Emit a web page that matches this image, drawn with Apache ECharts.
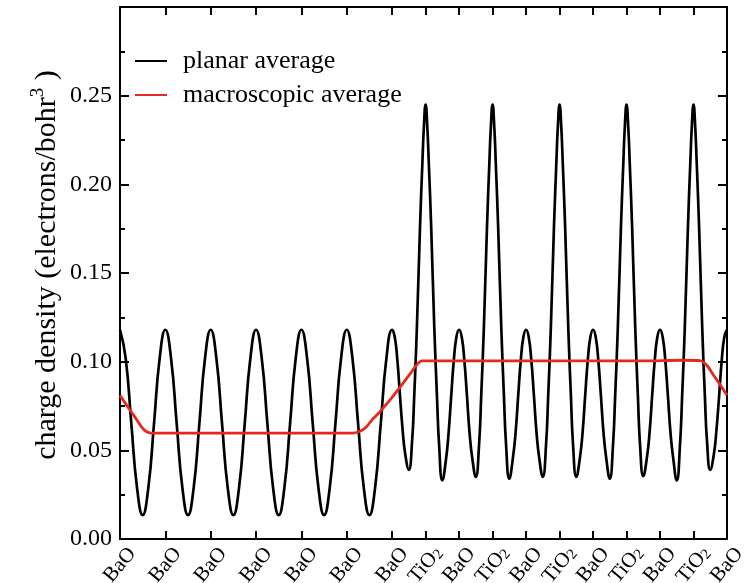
<!DOCTYPE html>
<html><head><meta charset="utf-8">
<script src="https://cdn.jsdelivr.net/npm/echarts@6/dist/echarts.min.js"></script>
<style>html,body{margin:0;padding:0;background:#fff}#c{width:754px;height:583px}</style>
</head><body><div id="c"></div>
<script>
// atomic plane positions (bohr) and their labels
const planePos = [0, 5.2, 10.4, 15.6, 20.8, 26.0, 31.2, 35.04, 38.88, 42.72, 46.56, 50.40, 54.24, 58.08, 61.92, 65.76, 69.6];
const planeLabels = ['BaO','BaO','BaO','BaO','BaO','BaO','BaO','TiO2','BaO','TiO2','BaO','TiO2','BaO','TiO2','BaO','TiO2','BaO'];

// planar average
const planarX = [
 0, 0.65, 1.30, 1.95, 2.60, 3.25, 3.90, 4.55, 5.20, 5.85, 6.50, 7.15, 7.80, 8.45, 9.10, 9.75,
 10.40, 11.05, 11.70, 12.35, 13.00, 13.65, 14.30, 14.95, 15.60, 16.25, 16.90, 17.55, 18.20, 18.85, 19.50, 20.15,
 20.80, 21.45, 22.10, 22.75, 23.40, 24.05, 24.70, 25.35, 26.00, 26.65, 27.30, 27.95, 28.60, 29.25, 29.90, 30.55,
 31.20, 31.50, 31.80, 32.10, 32.40, 32.70, 33.12, 33.49, 33.74, 34.04, 34.40, 34.68, 34.84, 35.04, 35.24, 35.40,
 35.68, 36.04, 36.34, 36.59, 36.96, 37.38, 37.68, 37.98, 38.28, 38.58,
 38.88, 39.18, 39.48, 39.78, 40.08, 40.38, 40.80, 41.17, 41.42, 41.72, 42.08, 42.36, 42.52, 42.72, 42.92, 43.08,
 43.36, 43.72, 44.02, 44.27, 44.64, 45.06, 45.36, 45.66, 45.96, 46.26,
 46.56, 46.86, 47.16, 47.46, 47.76, 48.06, 48.48, 48.85, 49.10, 49.40, 49.76, 50.04, 50.20, 50.40, 50.60, 50.76,
 51.04, 51.40, 51.70, 51.95, 52.32, 52.74, 53.04, 53.34, 53.64, 53.94,
 54.24, 54.54, 54.84, 55.14, 55.44, 55.74, 56.16, 56.53, 56.78, 57.08, 57.44, 57.72, 57.88, 58.08, 58.28, 58.44,
 58.72, 59.08, 59.38, 59.63, 60.00, 60.42, 60.72, 61.02, 61.32, 61.62,
 61.92, 62.22, 62.52, 62.82, 63.12, 63.42, 63.84, 64.21, 64.46, 64.76, 65.12, 65.40, 65.56, 65.76, 65.96, 66.12,
 66.40, 66.76, 67.06, 67.31, 67.68, 68.10, 68.40, 68.70, 69.00, 69.30, 69.60
];
const planarY = [
 0.118, 0.102, 0.065, 0.029, 0.0135, 0.029, 0.065, 0.102, 0.118, 0.102, 0.065, 0.029, 0.0135, 0.029, 0.065, 0.102,
 0.118, 0.102, 0.065, 0.029, 0.0135, 0.029, 0.065, 0.102, 0.118, 0.102, 0.065, 0.029, 0.0135, 0.029, 0.065, 0.102,
 0.118, 0.102, 0.065, 0.029, 0.0135, 0.029, 0.065, 0.102, 0.118, 0.102, 0.065, 0.029, 0.0135, 0.029, 0.065, 0.102,
 0.118, 0.114, 0.101, 0.081, 0.062, 0.048, 0.039, 0.055, 0.081, 0.119, 0.176, 0.213, 0.232, 0.245, 0.232, 0.213,
 0.176, 0.119, 0.081, 0.053, 0.033, 0.045, 0.060, 0.081, 0.101, 0.114,
 0.118, 0.114, 0.101, 0.081, 0.060, 0.046, 0.035, 0.053, 0.081, 0.119, 0.176, 0.213, 0.232, 0.245, 0.232, 0.213,
 0.176, 0.119, 0.081, 0.053, 0.034, 0.046, 0.060, 0.081, 0.101, 0.114,
 0.118, 0.114, 0.101, 0.081, 0.060, 0.046, 0.035, 0.053, 0.081, 0.119, 0.176, 0.213, 0.232, 0.245, 0.232, 0.213,
 0.176, 0.119, 0.081, 0.053, 0.035, 0.046, 0.060, 0.081, 0.101, 0.114,
 0.118, 0.114, 0.101, 0.081, 0.060, 0.046, 0.034, 0.053, 0.081, 0.119, 0.176, 0.213, 0.232, 0.245, 0.232, 0.213,
 0.176, 0.119, 0.081, 0.053, 0.0355, 0.046, 0.060, 0.081, 0.101, 0.114,
 0.118, 0.114, 0.101, 0.081, 0.060, 0.046, 0.033, 0.053, 0.081, 0.119, 0.176, 0.213, 0.232, 0.245, 0.232, 0.213,
 0.176, 0.119, 0.081, 0.055, 0.039, 0.048, 0.062, 0.081, 0.101, 0.114, 0.118
];

// macroscopic average
const macroX = [0, 0.92, 1.68, 2.44, 3.02, 3.59, 10, 20, 26.61, 27.52, 28.21, 28.90, 29.82, 30.96, 32.11, 33.26, 34.02, 34.60, 40, 50, 60, 64.5, 66.51, 67.28, 68.04, 68.81, 69.6];
const macroY = [0.081, 0.0743, 0.069, 0.0634, 0.0606, 0.0597, 0.0597, 0.0597, 0.0597, 0.0608, 0.0630, 0.0672, 0.0718, 0.0784, 0.0856, 0.0931, 0.0982, 0.1005, 0.1004, 0.1004, 0.1004, 0.1008, 0.1006, 0.0980, 0.0925, 0.0870, 0.081];

const serif = 'Liberation Serif';
const chart = echarts.init(document.getElementById('c'), null, {renderer: 'canvas'});

function labelFor(v) {
  let best = 0, bd = Infinity;
  planePos.forEach((p, i) => { const d = Math.abs(p - v); if (d < bd) { bd = d; best = i; } });
  const s = planeLabels[best];
  return s === 'TiO2' ? '{a|TiO}{b|2}' : '{a|' + s + '}';
}

const axisLineStyle = {color: '#000', width: 2};
chart.setOption({
  animation: false,
  grid: {left: 120, right: 27, top: 7, bottom: 44, containLabel: false, outerBoundsMode: 'none'},
  legend: {
    orient: 'vertical', left: 130, top: 43, itemWidth: 32, itemHeight: 2, icon: 'rect', itemGap: 8,
    textStyle: {fontFamily: serif, fontSize: 26, color: '#000', padding: [0, 0, 0, 11], lineHeight: 26},
    data: ['planar average', 'macroscopic average']
  },
  xAxis: [{
    type: 'value', min: 0, max: 69.6, position: 'bottom',
    axisLine: {onZero: false, lineStyle: axisLineStyle},
    axisTick: {inside: true, length: 8, customValues: planePos, lineStyle: {color: '#000', width: 2}},
    axisLabel: {
      customValues: planePos, rotate: 50, align: 'center', verticalAlign: 'middle', margin: 26,
      formatter: labelFor,
      rich: {
        a: {fontFamily: serif, fontSize: 21, color: '#000'},
        b: {fontFamily: serif, fontSize: 15, color: '#000', verticalAlign: 'bottom'}
      }
    },
    splitLine: {show: false}
  }, {
    type: 'value', min: 0, max: 69.6, position: 'top',
    axisLine: {onZero: false, lineStyle: axisLineStyle},
    axisTick: {inside: true, length: 8, customValues: planePos, lineStyle: {color: '#000', width: 2}},
    axisLabel: {show: false},
    splitLine: {show: false}
  }],
  yAxis: [{
    type: 'value', min: 0, max: 0.3, interval: 0.05, position: 'left',
    axisLine: {show: true, onZero: false, lineStyle: axisLineStyle},
    axisTick: {inside: true, length: 9, lineStyle: {color: '#000', width: 2}},
    minorTick: {show: true, splitNumber: 2, length: 5, lineStyle: {color: '#000', width: 2}},
    axisLabel: {formatter: v => v.toFixed(2), showMaxLabel: false, fontFamily: serif, fontSize: 24, color: '#000', margin: 8},
    splitLine: {show: false}
  }, {
    type: 'value', min: 0, max: 0.3, interval: 0.05, position: 'right',
    axisLine: {show: true, onZero: false, lineStyle: axisLineStyle},
    axisTick: {inside: true, length: 9, lineStyle: {color: '#000', width: 2}},
    minorTick: {show: true, splitNumber: 2, length: 5, lineStyle: {color: '#000', width: 2}},
    axisLabel: {show: false},
    splitLine: {show: false}
  }],
  graphic: [{
    type: 'text', x: 47, y: 265, rotation: Math.PI / 2,
    style: {
      text: '{a|charge density (electrons/bohr}{s|3}{a| )}',
      align: 'center', verticalAlign: 'middle',
      rich: {
        a: {fontFamily: serif, fontSize: 30, fill: '#000', lineHeight: 37},
        s: {fontFamily: serif, fontSize: 19, fill: '#000', verticalAlign: 'top'}
      }
    }
  }],
  series: [{
    name: 'planar average', type: 'line', xAxisIndex: 0, yAxisIndex: 0,
    data: planarX.map((x, i) => [x, planarY[i]]),
    showSymbol: false, symbol: 'none', smooth: 0.5,
    lineStyle: {color: '#000', width: 2.7}, itemStyle: {color: '#000'}
  }, {
    name: 'macroscopic average', type: 'line', xAxisIndex: 0, yAxisIndex: 0,
    data: macroX.map((x, i) => [x, macroY[i]]),
    showSymbol: false, symbol: 'none', smooth: 0.3,
    lineStyle: {color: '#e6281e', width: 2.8}, itemStyle: {color: '#e6281e'}
  }]
});
</script>
</body></html>
